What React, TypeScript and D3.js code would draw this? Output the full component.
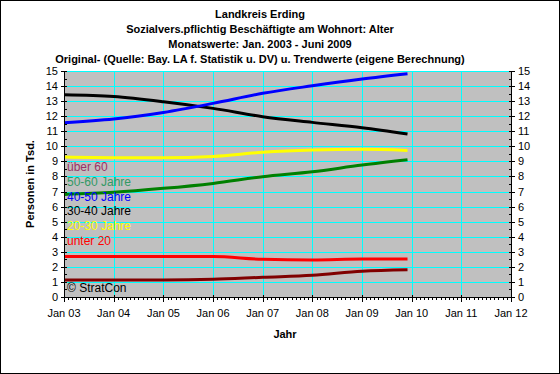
import * as d3 from "d3";

const titleLines = [
  "Landkreis Erding",
  "Sozialvers.pflichtig Beschäftigte am Wohnort: Alter",
  "Monatswerte: Jan. 2003 - Juni 2009",
  "Original- (Quelle: Bay. LA f. Statistik u. DV) u. Trendwerte (eigene Berechnung)",
];

const dates = ["2003-01-01", "2004-01-01", "2005-01-01", "2006-01-01", "2007-01-01", "2008-01-01", "2009-01-01", "2009-12-01"];
const unter20 = [2.68, 2.68, 2.68, 2.68, 2.5, 2.46, 2.52, 2.52];
const ueber60 = [1.13, 1.13, 1.13, 1.17, 1.31, 1.44, 1.71, 1.81];
const jahre20_30 = [9.29, 9.25, 9.25, 9.33, 9.6, 9.75, 9.8, 9.73];
const jahre30_40 = [13.42, 13.3, 12.96, 12.52, 11.97, 11.59, 11.24, 10.82];
const jahre40_50 = [11.57, 11.81, 12.25, 12.85, 13.52, 14.02, 14.47, 14.82];
const jahre50_60 = [6.81, 6.95, 7.21, 7.54, 7.98, 8.31, 8.76, 9.11];

const series = [
  { name: "über 60", values: ueber60, line: "#800000", text: "#993366" },
  { name: "50-60 Jahre", values: jahre50_60, line: "#008000", text: "#339966" },
  { name: "40-50 Jahre", values: jahre40_50, line: "#0000ff", text: "#0000ff" },
  { name: "30-40 Jahre", values: jahre30_40, line: "#000000", text: "#000000" },
  { name: "20-30 Jahre", values: jahre20_30, line: "#ffff00", text: "#ffff00" },
  { name: "unter 20", values: unter20, line: "#ff0000", text: "#ff0000" },
];

const yearTicks = ["Jan 03", "Jan 04", "Jan 05", "Jan 06", "Jan 07", "Jan 08", "Jan 09", "Jan 10", "Jan 11", "Jan 12"];

const W = 560;
const H = 374;
const left = 64;
const right = 511;
const top = 71;
const bottom = 297;
const font = "Arial, 'Liberation Sans', sans-serif";

export default function App() {
  const x = d3.scaleTime()
    .domain([new Date(2003, 0, 1), new Date(2012, 0, 1)])
    .range([left, right]);
  const y = d3.scaleLinear().domain([0, 15]).range([bottom, top]);

  const years = d3.timeYear.range(new Date(2003, 0, 1), new Date(2012, 0, 2));
  const months = d3.timeMonth.range(new Date(2003, 0, 1), new Date(2012, 0, 2));
  const yTicks = y.ticks(15);
  const yMinor = d3.range(0.5, 15, 1);
  const parsed = dates.map(d => new Date(d + "T00:00:00"));

  const line = d3.line<number>()
    .x((_, i) => x(parsed[i]))
    .y(v => y(v))
    .curve(d3.curveMonotoneX);

  const lineOrder = [...series].reverse();

  return (
    <svg width={W} height={H} style={{ position: "absolute", left: 0, top: 0, fontFamily: font }}>
      <rect x={0.5} y={0.5} width={W - 1} height={H - 1} fill="#fff" stroke="#000" />
      {titleLines.map((t, i) => (
        <text key={t} x={260} y={18 + i * 15} textAnchor="middle" fontSize={11} fontWeight="bold" fill="#000">{t}</text>
      ))}
      <rect x={left} y={top} width={right - left} height={bottom - top} fill="#c0c0c0" />
      {yTicks.filter(v => v > 0).map(v => (
        <line key={"gy" + v} x1={left} x2={right} y1={Math.round(y(v)) + 0.5} y2={Math.round(y(v)) + 0.5} stroke="#00ffff" />
      ))}
      {years.slice(1, -1).map(d => (
        <line key={"gx" + d.getFullYear()} x1={Math.round(x(d)) + 0.5} x2={Math.round(x(d)) + 0.5} y1={top} y2={bottom} stroke="#00ffff" />
      ))}
      {lineOrder.map(s => (
        <path key={s.name} d={line(s.values) ?? ""} fill="none" stroke={s.line} strokeWidth={3} />
      ))}
      {series.map((s, i) => (
        <text key={"l" + s.name} x={67} y={171 + i * 14.8} fontSize={12} fill={s.text}>{s.name}</text>
      ))}
      <text x={67} y={292} fontSize={12} fill="#000">© StratCon</text>

      {/* axes */}
      <line x1={left + 0.5} x2={left + 0.5} y1={top} y2={bottom + 1} stroke="#000" />
      <line x1={right + 0.5} x2={right + 0.5} y1={top} y2={bottom + 1} stroke="#000" />
      <line x1={left} x2={right + 1} y1={bottom + 0.5} y2={bottom + 0.5} stroke="#000" />
      {yTicks.map(v => (
        <g key={"yt" + v}>
          <line x1={left - 3} x2={left + 3} y1={Math.round(y(v)) + 0.5} y2={Math.round(y(v)) + 0.5} stroke="#000" />
          <line x1={right - 2} x2={right + 4} y1={Math.round(y(v)) + 0.5} y2={Math.round(y(v)) + 0.5} stroke="#000" />
          <text x={left - 6} y={y(v) + 4} textAnchor="end" fontSize={11} fill="#000">{v}</text>
          <text x={right + 7} y={y(v) + 4} textAnchor="start" fontSize={11} fill="#000">{v}</text>
        </g>
      ))}
      {yMinor.map(v => (
        <g key={"ym" + v}>
          <line x1={left + 1} x2={left + 3} y1={Math.round(y(v)) + 0.5} y2={Math.round(y(v)) + 0.5} stroke="#000" />
          <line x1={right - 2} x2={right} y1={Math.round(y(v)) + 0.5} y2={Math.round(y(v)) + 0.5} stroke="#000" />
        </g>
      ))}
      {months.map(d => (
        <line key={"mt" + d.getTime()} x1={Math.round(x(d)) + 0.5} x2={Math.round(x(d)) + 0.5} y1={bottom} y2={bottom + 3} stroke="#000" />
      ))}
      {years.map((d, i) => (
        <g key={"xt" + i}>
          <line x1={Math.round(x(d)) + 0.5} x2={Math.round(x(d)) + 0.5} y1={bottom - 2} y2={bottom + 5} stroke="#000" />
          <text x={x(d)} y={317} textAnchor="middle" fontSize={11} fill="#000">{yearTicks[i]}</text>
        </g>
      ))}
      <text x={285} y={338} textAnchor="middle" fontSize={11} fontWeight="bold" fill="#000">Jahr</text>
      <text transform={`translate(34,184) rotate(-90)`} textAnchor="middle" fontSize={11} fontWeight="bold" fill="#000">Personen in Tsd.</text>
    </svg>
  );
}
